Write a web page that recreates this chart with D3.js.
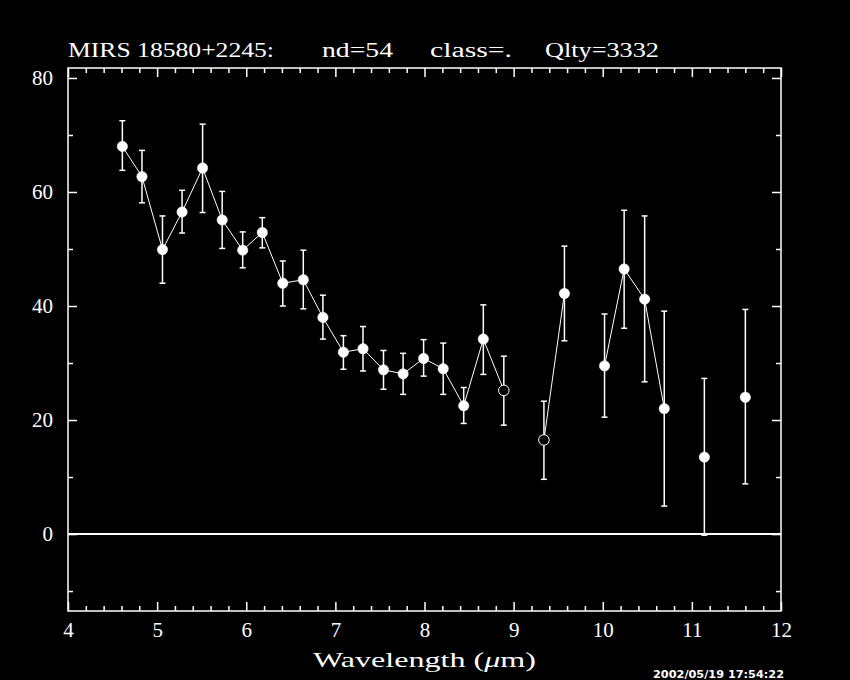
<!DOCTYPE html>
<html>
<head>
<meta charset="utf-8">
<script src="https://cdn.jsdelivr.net/npm/d3@7"></script>
<style>
  html, body { margin: 0; padding: 0; background: #000; }
  svg { display: block; }
  text { fill: #fff; font-family: "Liberation Serif", serif; }
</style>
</head>
<body>
<div id="chart"></div>
<script>
// spectrum points (wavelength in micron), null = no measurement
const wavelength = [4.61, 4.83, 5.06, 5.28, 5.51, 5.73, 5.96, 6.18, 6.41, 6.64, 6.86, 7.09, 7.31, 7.54, 7.76, 7.99,
  8.21, 8.44, 8.66, 8.89, 9.12, 9.34, 9.57, 9.79, 10.02, 10.24, 10.47, 10.69, 10.92, 11.14, 11.37, 11.60];
const flux = [68.0, 62.7, 49.9, 56.5, 64.2, 55.1, 49.8, 52.9, 44.0, 44.6, 38.0, 31.9, 32.5, 28.8, 28.1, 30.8,
  29.0, 22.5, 34.2, 25.2, null, 16.5, 42.2, null, 29.5, 46.5, 41.2, 22.0, null, 13.5, null, 24.0];
const fluxHigh = [72.5, 67.3, 55.8, 60.3, 71.9, 60.1, 53.0, 55.5, 47.9, 49.8, 41.9, 34.8, 36.4, 32.2, 31.7, 34.1,
  33.5, 25.7, 40.2, 31.2, null, 23.3, 50.5, null, 38.6, 56.8, 55.8, 39.1, null, 27.3, null, 39.4];
const fluxLow = [63.8, 58.1, 44.0, 52.8, 56.4, 50.1, 46.7, 50.2, 40.0, 39.5, 34.2, 28.9, 28.6, 25.4, 24.5, 27.7,
  24.5, 19.4, 28.0, 19.1, null, 9.6, 33.9, null, 20.5, 36.1, 26.7, 4.9, null, -0.2, null, 8.8];
// open circle = flagged point
const flagged = [0, 0, 0, 0, 0, 0, 0, 0, 0, 0, 0, 0, 0, 0, 0, 0, 0, 0, 0, 1, 0, 1, 0, 0, 0, 0, 0, 0, 0, 0, 0, 0];

const xTicks = [4, 5, 6, 7, 8, 9, 10, 11, 12];
const yTicks = [0, 20, 40, 60, 80];
const titleParts = ["MIRS 18580+2245:", "nd=54", "class=.", "Qlty=3332"];
const xLabel = "Wavelength (";
const timeStamp = "2002/05/19 17:54:22";

const width = 850, height = 680;
const margin = { top: 68, right: 69, bottom: 69, left: 68 };

const svg = d3.select("#chart").append("svg")
  .attr("width", width)
  .attr("height", height)
  .style("background", "#000");

const x = d3.scaleLinear().domain([4, 12]).range([margin.left, width - margin.right]);
const y = d3.scaleLinear().domain([-13.5, 81.75]).range([height - margin.bottom, margin.top]);

const x0 = margin.left, x1 = width - margin.right;
const y0 = height - margin.bottom, y1 = margin.top;

const xMinor = d3.range(40, 121, 2).map(d => d / 10).filter(d => !xTicks.includes(d));
const yMinor = [-10, 10, 30, 50, 70];

function styleTicks(g) {
  g.select(".domain").remove();
  g.selectAll(".tick line").attr("stroke", "#fff").attr("stroke-width", 1.5);
}

// ticks pointing inward on all four sides
[[xTicks, 9], [xMinor, 5]].forEach(([vals, len]) => {
  svg.append("g").attr("transform", `translate(0,${y0})`)
    .call(d3.axisTop(x).tickValues(vals).tickSize(len).tickFormat(""))
    .call(styleTicks);
  svg.append("g").attr("transform", `translate(0,${y1})`)
    .call(d3.axisBottom(x).tickValues(vals).tickSize(len).tickFormat(""))
    .call(styleTicks);
});
[[yTicks, 9], [yMinor, 5]].forEach(([vals, len]) => {
  svg.append("g").attr("transform", `translate(${x0},0)`)
    .call(d3.axisRight(y).tickValues(vals).tickSize(len).tickFormat(""))
    .call(styleTicks);
  svg.append("g").attr("transform", `translate(${x1},0)`)
    .call(d3.axisLeft(y).tickValues(vals).tickSize(len).tickFormat(""))
    .call(styleTicks);
});

// tick labels
svg.append("g").attr("transform", `translate(0,${y0})`)
  .call(d3.axisBottom(x).tickValues(xTicks).tickSize(0).tickPadding(11).tickFormat(d3.format("d")))
  .call(g => g.select(".domain").remove())
  .call(g => g.selectAll("text").attr("fill", "#fff")
    .style("font-family", "'Liberation Serif', serif").style("font-size", "21px"));

svg.append("g").attr("transform", `translate(${x0},0)`)
  .call(d3.axisLeft(y).tickValues(yTicks).tickSize(0).tickPadding(15).tickFormat(d3.format("d")))
  .call(g => g.select(".domain").remove())
  .call(g => g.selectAll("text").attr("fill", "#fff")
    .style("font-family", "'Liberation Serif', serif").style("font-size", "21px"));

// frame
svg.append("rect")
  .attr("x", x0).attr("y", y1)
  .attr("width", x1 - x0).attr("height", y0 - y1)
  .attr("fill", "none").attr("stroke", "#fff").attr("stroke-width", 1.5);

// zero line
svg.append("line")
  .attr("x1", x0).attr("x2", x1)
  .attr("y1", y(0)).attr("y2", y(0))
  .attr("stroke", "#fff").attr("stroke-width", 2);

const pts = wavelength.map((w, i) => ({
  w: w, f: flux[i], hi: fluxHigh[i], lo: fluxLow[i], open: flagged[i] === 1
}));
const valid = pts.filter(d => d.f !== null);

// connecting line, broken where a point is missing
const line = d3.line()
  .defined(d => d.f !== null)
  .x(d => x(d.w))
  .y(d => y(d.f));

svg.append("path")
  .datum(pts)
  .attr("d", line)
  .attr("fill", "none")
  .attr("stroke", "#fff")
  .attr("stroke-width", 1);

// error bars
const bars = svg.append("g").attr("stroke", "#fff").attr("stroke-width", 1.5);
valid.forEach(d => {
  bars.append("line").attr("x1", x(d.w)).attr("x2", x(d.w)).attr("y1", y(d.hi)).attr("y2", y(d.lo));
  bars.append("line").attr("x1", x(d.w) - 3).attr("x2", x(d.w) + 3).attr("y1", y(d.hi)).attr("y2", y(d.hi));
  bars.append("line").attr("x1", x(d.w) - 3).attr("x2", x(d.w) + 3).attr("y1", y(d.lo)).attr("y2", y(d.lo));
});

// markers
svg.append("g").selectAll("circle")
  .data(valid)
  .join("circle")
  .attr("cx", d => x(d.w))
  .attr("cy", d => y(d.f))
  .attr("r", d => d.open ? 5.3 : 5.2)
  .attr("fill", d => d.open ? "#000" : "#fff")
  .attr("stroke", "#fff")
  .attr("stroke-width", d => d.open ? 1 : 0.5);

// title
const titleX = [68, 322, 430, 545];
const titleW = [206, 71, 82, 114];
titleParts.forEach((t, i) => {
  svg.append("text")
    .attr("x", titleX[i]).attr("y", 57)
    .attr("textLength", titleW[i]).attr("lengthAdjust", "spacingAndGlyphs")
    .style("font-size", "20px")
    .text(t);
});

// x axis title
const xt = svg.append("text")
  .attr("x", 313).attr("y", 667)
  .attr("textLength", 223).attr("lengthAdjust", "spacingAndGlyphs")
  .style("font-size", "21px");
xt.append("tspan").text(xLabel);
xt.append("tspan").style("font-style", "italic").text("\u03bc");
xt.append("tspan").text("m)");

// time stamp at the bottom edge
svg.append("text")
  .attr("x", 653).attr("y", 678)
  .attr("textLength", 131).attr("lengthAdjust", "spacingAndGlyphs")
  .style("font-family", "'DejaVu Sans', sans-serif")
  .style("font-size", "10px")
  .style("font-weight", "bold")
  .text(timeStamp);
</script>
</body>
</html>
